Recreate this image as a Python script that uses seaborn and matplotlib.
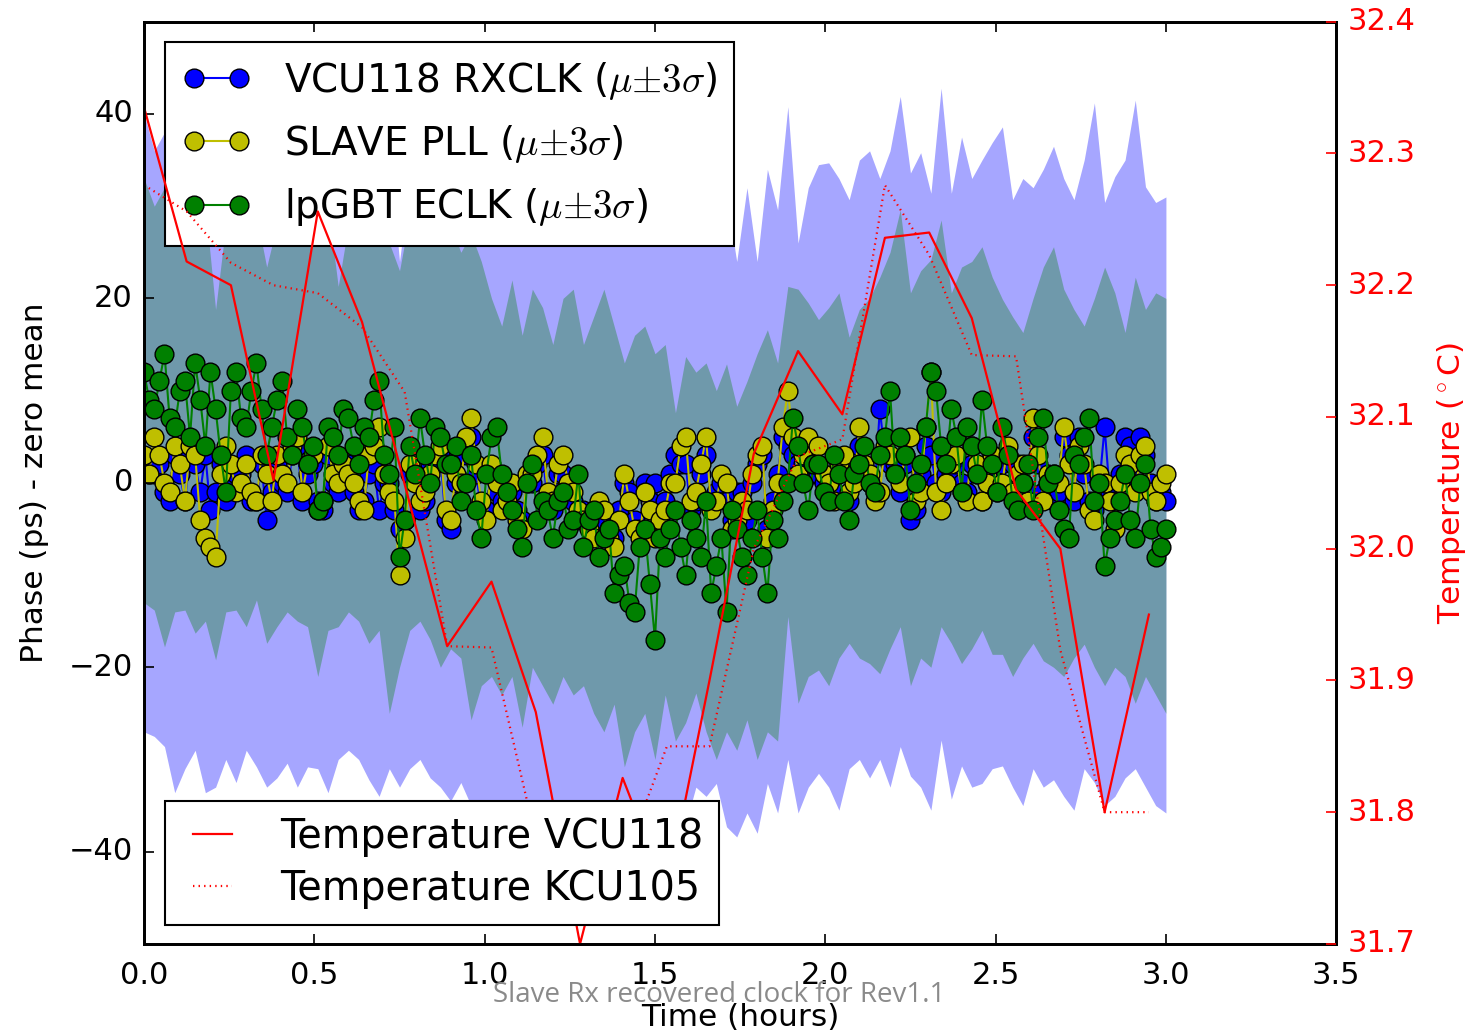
import matplotlib
matplotlib.use("Agg")
import matplotlib.pyplot as plt
import seaborn as sns

# Temps de mesure (heures) pour les phases
hours = [0.00, 0.03, 0.06, 0.09, 0.12, 0.15, 0.18, 0.21, 0.24, 0.27,
         0.30, 0.33, 0.36, 0.39, 0.42, 0.45, 0.48, 0.51, 0.54, 0.57,
         0.60, 0.63, 0.66, 0.69, 0.72, 0.75, 0.78, 0.81, 0.84, 0.87,
         0.90, 0.93, 0.96, 0.99, 1.02, 1.05, 1.08, 1.11, 1.14, 1.17,
         1.20, 1.23, 1.26, 1.29, 1.32, 1.35, 1.38, 1.41, 1.44, 1.47,
         1.50, 1.53, 1.56, 1.59, 1.62, 1.65, 1.68, 1.71, 1.74, 1.77,
         1.80, 1.83, 1.86, 1.89, 1.92, 1.95, 1.98, 2.01, 2.04, 2.07,
         2.10, 2.13, 2.16, 2.19, 2.22, 2.25, 2.28, 2.31, 2.34, 2.37,
         2.40, 2.43, 2.46, 2.49, 2.52, 2.55, 2.58, 2.61, 2.64, 2.67,
         2.70, 2.73, 2.76, 2.79, 2.82, 2.85, 2.88, 2.91, 2.94, 2.97,
         3.00]
# mesures intermediaires
hours_mid = [0.015, 0.045, 0.075, 0.105, 0.135, 0.165, 0.195, 0.225, 0.255, 0.285,
             0.315, 0.345, 0.375, 0.405, 0.435, 0.465, 0.495, 0.525, 0.555, 0.585,
             0.615, 0.645, 0.675, 0.705, 0.735, 0.765, 0.795, 0.825, 0.855, 0.885,
             0.915, 0.945, 0.975, 1.005, 1.035, 1.065, 1.095, 1.125, 1.155, 1.185,
             1.215, 1.245, 1.275, 1.305, 1.335, 1.365, 1.395, 1.425, 1.455, 1.485,
             1.515, 1.545, 1.575, 1.605, 1.635, 1.665, 1.695, 1.725, 1.755, 1.785,
             1.815, 1.845, 1.875, 1.905, 1.935, 1.965, 1.995, 2.025, 2.055, 2.085,
             2.115, 2.145, 2.175, 2.205, 2.235, 2.265, 2.295, 2.325, 2.355, 2.385,
             2.415, 2.445, 2.475, 2.505, 2.535, 2.565, 2.595, 2.625, 2.655, 2.685,
             2.715, 2.745, 2.775, 2.805, 2.835, 2.865, 2.895, 2.925, 2.955, 2.985]

# Phase moyenne (ps)
vcu118_rxclk = [2, 1, -1, 3, -2, 2, 3, -1, -2, 1,
                3, -2, -4, 2, -1, 4, 1, -2, 3, -1,
                2, -3, 1, -3, 0, -5, 1, -3, 2, 3,
                -5, 3, 5, -3, 1, -2, -1, -4, 0, 3,
                -3, 1, -2, -3, -5, -4, -6, 0, -4, 0,
                0, -2, 3, 2, -2, 3, -1, -2, -1, -4,
                2, -5, 1, 4, 2, 3, 1, -1, 2, -2,
                4, 0, 8, 2, -1, -4, 1, 3, -1, 1,
                0, 2, -2, 3, 2, 2, 0, 5, -1, -2,
                5, -2, 1, -3, 6, -2, 5, 0, 3, -2,
                -2]
vcu118_rxclk_mid = [1, 2, -2, 1, 3, -1, -3, 2, 0, 1,
                    -2, 2, -1, 0, 3, -2, 2, -3, 0, 1,
                    -1, -2, 2, 0, -3, -4, 1, -2, 2, -4,
                    0, 3, 1, -3, -1, -2, -3, 0, 2, -2,
                    1, -1, -4, -4, -3, -5, -3, -1, -5, -2,
                    -3, 1, 2, -3, 1, -2, 0, -4, -1, 0,
                    3, -2, 5, 3, 2, 1, 0, -1, 2, 1,
                    1, -1, 3, 2, 2, -3, 4, 0, 1, 2,
                    -1, 1, 1, 0, 3, 2, -1, 2, 0, -1,
                    3, 5, -2, 0, -1, 1, 4, 5, 0, -1]
slave_pll = [3, 5, 0, 4, -2, 3, -6, -8, 4, -1,
             2, -2, 1, 3, 0, 5, 2, -3, 4, 0,
             1, -2, 3, 6, -1, -10, 2, -2, 1, 4,
             -4, 0, 7, -2, 2, -3, 0, -5, 1, 5,
             -2, 3, -1, -4, -6, -3, -7, 1, -5, -1,
             -6, -3, 0, 5, -1, 5, -2, 0, -4, -3,
             3, -6, 0, 10, 1, 5, 4, 0, 2, -1,
             6, 1, -1, 3, 0, 5, -1, 12, -3, 2,
             -1, 4, -2, 3, 0, -1, 2, 7, -2, 1,
             6, -1, 2, -4, 0, -5, 3, -1, 4, -2,
             1]
slave_pll_mid = [1, 3, -1, 2, 4, -4, -7, 1, 2, 0,
                 -1, 3, -2, 1, 4, -1, 3, -2, 1, 2,
                 0, -3, 4, 1, -2, -6, 0, -1, 3, -3,
                 1, 5, 2, -4, 0, -2, -4, 1, 3, -1,
                 2, 0, -3, -5, -2, -6, -4, -2, -6, -3,
                 -4, 0, 4, -2, 2, -3, 1, -5, -2, 1,
                 4, -3, 6, 5, 3, 2, 1, -2, 3, 0,
                 2, -2, 4, 1, 3, -2, 6, -1, 0, 3,
                 -2, 2, 0, -1, 4, 1, -2, 3, 1, 0,
                 2, 4, -3, 1, -2, 0, 2, 3, -1, 0]
lpgbt_eclk = [12, 8, 14, 6, 11, 13, 4, 8, -1, 12,
              6, 13, 3, 9, 5, 8, 2, -3, 6, 3,
              7, 2, 5, 11, 1, -8, 4, 7, 0, 5,
              2, -2, 3, -6, 5, 1, -3, -7, 2, -2,
              -6, -1, -4, -7, -3, -6, -12, -9, -14, -5,
              -17, -8, -3, -10, -6, -2, -9, -14, -5, -10,
              -3, -12, -6, 0, 4, -3, 2, -2, 1, -4,
              2, 0, 3, 10, 5, -3, 2, 12, 4, 8,
              -1, 4, 9, 2, 6, -2, 0, -3, 7, 1,
              -5, 3, 5, -2, -9, -4, 1, -6, 2, -8,
              -5]
lpgbt_eclk_mid = [9, 11, 7, 10, 5, 9, 12, 3, 10, 7,
                  10, 8, 6, 11, 3, 6, 4, -2, 5, 8,
                  4, 6, 9, 3, 6, -4, 1, 3, 6, 2,
                  4, 0, -3, 1, 6, -1, -5, 0, -4, -3,
                  -2, -5, 1, -4, -8, -5, -10, -13, -7, -11,
                  -6, -5, -7, -4, -8, -12, -6, -3, -8, -6,
                  -8, -4, -2, 7, 0, 2, -1, 3, -2, 1,
                  4, -1, 5, 1, 3, 0, 6, 10, 2, 5,
                  6, 1, 4, -1, 3, -3, 2, 5, 0, -3,
                  -6, 2, 7, 0, -6, -2, -4, 0, -5, -7]

# Bandes mu +/- 3 sigma
vcu118_high = [40, 36, 38, 35, 39, 33, 37, 31, 36, 40,
               34, 30, 38, 35, 32, 37, 33, 39, 36, 31,
               35, 38, 34, 30, 36, 24, 33, 37, 35, 31,
               38, 34, 36, 32, 39, 35, 33, 37, 30, 36,
               34, 38, 32, 35, 37, 31, 36, 33, 39, 34,
               30, 35, 37, 32, 36, 34, 38, 31, 24, 32,
               24, 34, 29.6, 40.8, 26, 32, 34.5, 34.7, 33, 30.7,
               35, 36, 33, 36, 41.9, 33.6, 35.8, 31.4, 42.8, 31.4,
               37.5, 33, 35, 36.9, 38.6, 30.7, 33, 32, 34, 36.5,
               33, 30.7, 35, 41.2, 30.4, 33.2, 35, 41.5, 32.1, 30.4,
               31]
vcu118_low = [-27, -27.5, -28.6, -33.6, -31, -29, -33.6, -33, -30, -32.5,
              -29, -30.8, -33, -32, -30.4, -33, -30.8, -31, -33.6, -30,
              -29, -30, -32.2, -34, -31, -33, -31, -30, -32, -33,
              -34.5, -32.5, -35, -37, -39, -36, -40, -38, -35, -39,
              -41, -37, -36, -40, -38, -35, -39, -37, -41, -36,
              -38, -40, -35, -37, -33, -34, -32.6, -37.3, -38.4, -35.8,
              -38, -32.6, -35.8, -30, -35.8, -33, -31.5, -33, -35.5, -31,
              -30, -32, -30, -33, -28.6, -31.8, -33, -35.5, -27.9, -34.3,
              -30.7, -33, -32.6, -31, -30.7, -33, -35, -31, -33, -32.2,
              -34, -35.5, -31, -32.5, -35, -34, -32, -31, -33, -35,
              -35.8]
eclk_high = [33, 30, 32, 29, 31, 27, 30, 18.8, 28, 30,
             26, 29, 23.4, 28, 31, 27, 29, 26, 30, 21.3,
             28, 30, 27, 29, 26, 23, 29, 27, 30, 26,
             28, 25, 27, 24, 20, 17, 22, 16, 21, 19,
             15, 20, 21, 15, 18, 21, 17, 13, 16, 17,
             14, 15, 7.6, 13.7, 12, 13, 10, 12.9, 8.3, 11,
             14, 16.6, 13, 21.3, 21, 19.5, 17.7, 19, 20.6, 15.8,
             18.8, 20, 22.3, 25, 29.6, 20.6, 23, 24.2, 28.5, 20.6,
             23.4, 24, 25.6, 22.3, 19.9, 18, 16.3, 20, 23.4, 25.6,
             21, 18.8, 17, 20, 23.4, 20.6, 16.3, 22.3, 18.8, 20.6,
             20]
eclk_low = [-13, -13.8, -17.8, -14, -13.8, -16.3, -15, -19.2, -14, -13.8,
            -15.6, -12.7, -17.4, -15.6, -14, -15, -15.6, -21, -16, -15.6,
            -14, -15, -17.4, -16, -25, -20, -16, -15, -17, -20,
            -18, -19, -25.7, -22, -21, -23, -21, -26.5, -20, -22,
            -24, -21, -23, -22, -25, -27, -24, -30.8, -27, -25,
            -30, -23, -28, -26, -22.8, -27, -30, -27, -29, -25.7,
            -30, -27, -28, -14.5, -23.9, -21, -20.3, -22, -19, -17.4,
            -19, -19.6, -20.7, -18, -15.6, -22, -19, -20, -15.6, -17.4,
            -19.6, -18, -16, -18.6, -18.6, -21, -19, -17.4, -19.3, -20,
            -21, -19, -17.5, -20, -22, -20, -21, -23.9, -21, -23,
            -25]

# Temperatures (degC)
temp_hours = [0.00, 0.125, 0.255, 0.38, 0.51, 0.64, 0.765, 0.89, 1.02, 1.15,
              1.28, 1.405, 1.535, 1.66, 1.79, 1.92, 2.05, 2.175, 2.305, 2.43,
              2.56, 2.69, 2.82, 2.95]
temp_vcu118 = [32.335, 32.218, 32.200, 32.052, 32.256, 32.172, 32.049, 31.926, 31.975, 31.876,
               31.700, 31.826, 31.740, 31.900, 32.072, 32.150, 32.102, 32.236, 32.240, 32.175,
               32.045, 32.000, 31.800, 31.950]
temp_kcu105 = [32.276, 32.256, 32.217, 32.200, 32.194, 32.168, 32.119, 31.926, 31.925, 31.780,
               31.780, 31.760, 31.850, 31.850, 32.000, 32.070, 32.083, 32.276, 32.223, 32.147,
               32.146, 31.923, 31.800, 31.800]

temp_ticks = [31.7, 31.8, 31.9, 32.0, 32.1, 32.2, 32.3, 32.4]

plt.style.use("classic")
plt.rcParams["figure.facecolor"] = "white"
plt.rcParams["savefig.facecolor"] = "white"
plt.rcParams["font.family"] = ["DejaVu Sans"]

fig = plt.figure(figsize=(14.7, 10.35), dpi=100)
ax = fig.add_axes([0.098, 0.088, 0.811, 0.891])

# bandes d'abord, points par-dessus
ax.fill_between(hours, vcu118_low, vcu118_high, color="b", alpha=0.35, linewidth=0)
ax.fill_between(hours, eclk_low, eclk_high, color="g", alpha=0.33, linewidth=0)

series = [
    (vcu118_rxclk, vcu118_rxclk_mid, "b", r"VCU118 RXCLK ($\mu{\pm}3\sigma$)"),
    (slave_pll, slave_pll_mid, "y", r"SLAVE PLL ($\mu{\pm}3\sigma$)"),
    (lpgbt_eclk, lpgbt_eclk_mid, "g", r"lpGBT ECLK ($\mu{\pm}3\sigma$)"),
]
for values, values_mid, color, label in series:
    sns.lineplot(x=hours + hours_mid, y=values + values_mid, ax=ax, color=color,
                 marker="o", markersize=13.5, markeredgecolor="k", markeredgewidth=1,
                 linewidth=1.5, label=label, estimator=None, sort=True, legend=False)

leg1 = ax.legend(loc="upper left", bbox_to_anchor=(0.0176, 0.978), borderaxespad=0,
                 fontsize=28, numpoints=2, handlelength=1.75, handletextpad=0.85,
                 labelspacing=0.55, borderpad=0.45)
leg1.get_frame().set_linewidth(1.5)

ax2 = ax.twinx()
sns.lineplot(x=temp_hours, y=temp_vcu118, ax=ax2, color="r", linewidth=1.6,
             label="Temperature VCU118", estimator=None, sort=False, legend=False)
sns.lineplot(x=temp_hours, y=temp_kcu105, ax=ax2, color="r", linewidth=1.6, linestyle=":",
             label="Temperature KCU105", estimator=None, sort=False, legend=False)

leg2 = ax2.legend(loc="lower left", bbox_to_anchor=(0.0176, 0.0206), borderaxespad=0,
                  fontsize=28.5, handlelength=1.6, handletextpad=0.9,
                  labelspacing=0.3, borderpad=0.4)
leg2.get_frame().set_linewidth(1.5)

ax.set_xlim(0, 3.5)
ax.set_ylim(-50, 50)
ax.set_xticks([0.0, 0.5, 1.0, 1.5, 2.0, 2.5, 3.0, 3.5])
ax.set_xticklabels(["0.0", "0.5", "1.0", "1.5", "2.0", "2.5", "3.0", "3.5"])
ax.set_yticks([-40, -20, 0, 20, 40])
ax.tick_params(axis="both", labelsize=22, length=7, width=1.2, direction="in")
ax.tick_params(axis="x", top=True, pad=12)
ax.tick_params(axis="y", right=False, pad=8)
ax.set_xlabel("Time (hours)", fontsize=22.5, labelpad=10)
ax.set_ylabel("Phase (ps) - zero mean", fontsize=22.5, labelpad=14)

ax2.set_ylim(31.7, 32.4)
ax2.set_yticks(temp_ticks)
ax2.set_yticklabels([f"{t:.1f}" for t in temp_ticks])
ax2.tick_params(axis="y", colors="r", labelsize=22, length=7, width=1.2,
                direction="in", pad=8, left=False)
ax2.set_ylabel("Temperature ($^\\circ$C)", color="r", fontsize=22.5, labelpad=14)
ax2.set_xlim(0, 3.5)

for a in (ax, ax2):
    for s in a.spines.values():
        s.set_linewidth(2)

fig.text(0.489, 0.0386, "Slave Rx recovered clock for Rev1.1", ha="center", va="center",
         fontsize=20, color="#8a8a8a", family=["Open Sans", "DejaVu Sans"])

fig.savefig("out.png", dpi=100)
